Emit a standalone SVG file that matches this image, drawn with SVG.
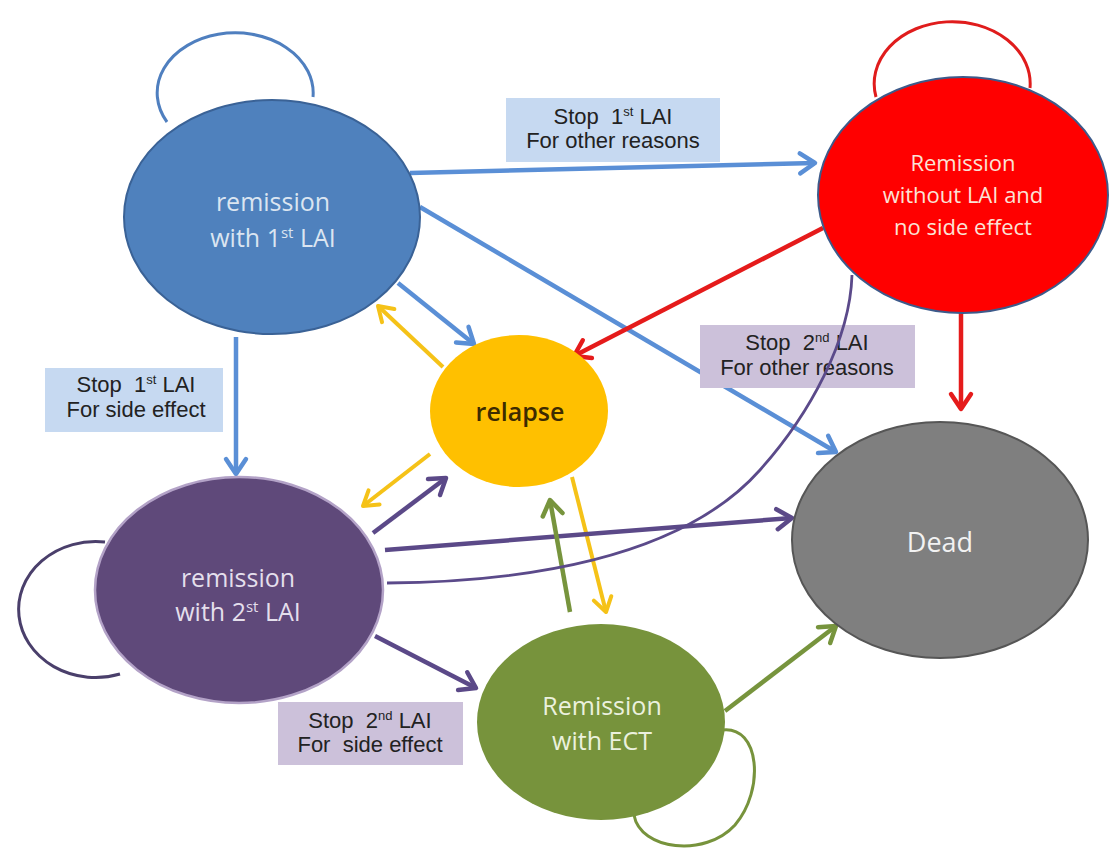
<svg xmlns="http://www.w3.org/2000/svg" width="1111" height="855" viewBox="0 0 1111 855">
  <style>
    .node-text { font-family: "Open Sans", "DejaVu Sans", sans-serif; text-anchor: middle; }
    .edge-label { font-family: "Liberation Sans", Arial, sans-serif; font-size: 22px; fill: #222; text-anchor: middle; }
    .box-blue { fill: #c6d9f1; }
    .box-lav { fill: #ccc1da; }
    .loop { fill: none; stroke-width: 3; }
    .edge { fill: none; stroke-width: 4.5; stroke-linecap: butt; }
    .blue { stroke: #5a8fd6; }
    .yellow { stroke: #f5c218; stroke-width: 4; }
    .purple { stroke: #5b4988; }
    .red { stroke: #e51b1b; }
    .green { stroke: #77943d; }
  </style>
  <defs>
    <marker id="arr-blue" markerUnits="userSpaceOnUse" viewBox="-22 -14 26 28" markerWidth="26" markerHeight="28" refX="0" refY="0" orient="auto">
      <path d="M-15,-10 L0,0 L-15,10" fill="none" stroke="#5a8fd6" stroke-width="4.5" stroke-linejoin="round" stroke-linecap="round"/>
    </marker>
    <marker id="arr-yellow" markerUnits="userSpaceOnUse" viewBox="-22 -14 26 28" markerWidth="26" markerHeight="28" refX="0" refY="0" orient="auto">
      <path d="M-14,-9 L0,0 L-14,9" fill="none" stroke="#f5c218" stroke-width="4" stroke-linejoin="round" stroke-linecap="round"/>
    </marker>
    <marker id="arr-purple" markerUnits="userSpaceOnUse" viewBox="-22 -14 26 28" markerWidth="26" markerHeight="28" refX="0" refY="0" orient="auto">
      <path d="M-15,-10 L0,0 L-15,10" fill="none" stroke="#5b4988" stroke-width="4.5" stroke-linejoin="round" stroke-linecap="round"/>
    </marker>
    <marker id="arr-red" markerUnits="userSpaceOnUse" viewBox="-22 -14 26 28" markerWidth="26" markerHeight="28" refX="0" refY="0" orient="auto">
      <path d="M-15,-10 L0,0 L-15,10" fill="none" stroke="#e51b1b" stroke-width="4.5" stroke-linejoin="round" stroke-linecap="round"/>
    </marker>
    <marker id="arr-green" markerUnits="userSpaceOnUse" viewBox="-22 -14 26 28" markerWidth="26" markerHeight="28" refX="0" refY="0" orient="auto">
      <path d="M-15,-10 L0,0 L-15,10" fill="none" stroke="#77943d" stroke-width="4.5" stroke-linejoin="round" stroke-linecap="round"/>
    </marker>
  </defs>

  <rect width="1111" height="855" fill="#ffffff"/>

  <!-- self loops (drawn behind their states) -->
  <g id="self-loops">
    <path class="loop" stroke="#4f7fbf" d="M167,122 A78,60 0 1 1 313,97"/>
    <path class="loop" stroke="#e01c1c" d="M876,97 A78,62 0 1 1 1030,88"/>
    <path class="loop" stroke="#4a3f6b" d="M105,542 A77,68 0 1 0 120,674"/>
    <path class="loop" stroke="#77933c" d="M722,730 C760,725 765,790 735,825 C705,858 640,850 634,815"/>
  </g>

  <!-- transitions between states -->
  <g id="connectors">
    <!-- from remission with 1st LAI -->
    <path class="edge blue" d="M410,173 L815,163" marker-end="url(#arr-blue)"/>
    <path class="edge blue" d="M420,207 L836,452" marker-end="url(#arr-blue)"/>
    <path class="edge blue" d="M398,283 L474,344" marker-end="url(#arr-blue)"/>
    <path class="edge blue" d="M236,337 L236,474" marker-end="url(#arr-blue)"/>
    <!-- from relapse -->
    <path class="edge yellow" d="M443,367 L378,306" marker-end="url(#arr-yellow)"/>
    <path class="edge yellow" d="M430,454 L363,506" marker-end="url(#arr-yellow)"/>
    <path class="edge yellow" d="M572,477 L606,612" marker-end="url(#arr-yellow)"/>
    <!-- from remission with 2nd LAI -->
    <path class="edge purple" d="M373,533 L446,478" marker-end="url(#arr-purple)"/>
    <path class="edge purple" d="M385,550 L792,518" marker-end="url(#arr-purple)" stroke-width="4"/>
    <path class="edge purple" d="M375,636 L476,688" marker-end="url(#arr-purple)"/>
    <!-- from remission without LAI -->
    <path class="edge red" d="M823,228 L574,356" marker-end="url(#arr-red)"/>
    <path class="edge red" d="M961,313 L961,409" marker-end="url(#arr-red)"/>
    <!-- from remission with ECT -->
    <path class="edge green" d="M570,612 L550,500" marker-end="url(#arr-green)"/>
    <path class="edge green" d="M725,711 L836,626" marker-end="url(#arr-green)"/>

    <!-- transition labels -->
    <g id="edge-labels">
      <g id="label-stop1-other">
        <rect class="box-blue" x="506" y="98" width="214" height="64"/>
        <text class="edge-label" xml:space="preserve" x="613" y="124">Stop  1<tspan font-size="13" dy="-8">st</tspan><tspan dy="8"> LAI</tspan></text>
        <text class="edge-label" x="613" y="148">For other reasons</text>
      </g>
      <g id="label-stop1-side">
        <rect class="box-blue" x="45" y="368" width="178" height="64"/>
        <text class="edge-label" xml:space="preserve" x="136" y="392">Stop  1<tspan font-size="13" dy="-8">st</tspan><tspan dy="8"> LAI</tspan></text>
        <text class="edge-label" x="136" y="417">For side effect</text>
      </g>
      <g id="label-stop2-other">
        <rect class="box-lav" x="700" y="325" width="215" height="63"/>
        <text class="edge-label" xml:space="preserve" x="807" y="350">Stop  2<tspan font-size="13" dy="-8">nd</tspan><tspan dy="8"> LAI</tspan></text>
        <text class="edge-label" x="807" y="375">For other reasons</text>
      </g>
      <g id="label-stop2-side">
        <rect class="box-lav" x="278" y="702" width="185" height="63"/>
        <text class="edge-label" xml:space="preserve" x="370" y="728">Stop  2<tspan font-size="13" dy="-8">nd</tspan><tspan dy="8"> LAI</tspan></text>
        <text class="edge-label" xml:space="preserve" x="370" y="752">For  side effect</text>
      </g>
    </g>

    <!-- 2nd LAI stopped for other reasons: long curve up to remission without LAI -->
    <path fill="none" stroke="#5b4a8a" stroke-width="2.8" d="M387,583 C520,582 680,560 760,470 C810,414 850,340 852,275"/>
  </g>

  <!-- states -->
  <g id="node-remission-1st">
    <ellipse cx="272" cy="217" rx="148" ry="117" fill="#4f81bd" stroke="#3a6296" stroke-width="2"/>
    <text class="node-text" x="273" y="211" font-size="25" fill="#dbe5f1">remission</text>
    <text class="node-text" x="273" y="247" font-size="25" fill="#dbe5f1">with 1<tspan font-size="15" dy="-9">st</tspan><tspan dy="9"> LAI</tspan></text>
  </g>

  <g id="node-remission-no-lai">
    <ellipse cx="963" cy="195" rx="145" ry="118" fill="#ff0000" stroke="#3d5a8a" stroke-width="2"/>
    <text class="node-text" x="963" y="171" font-size="22" fill="#fbe3d6">Remission</text>
    <text class="node-text" x="963" y="203" font-size="22" fill="#fbe3d6">without LAI and</text>
    <text class="node-text" x="963" y="235" font-size="22" fill="#fbe3d6">no side effect</text>
  </g>

  <g id="node-relapse">
    <ellipse cx="519" cy="411" rx="89" ry="76" fill="#ffc000"/>
    <text class="node-text" x="520" y="421" font-size="25" font-weight="600" fill="#3d2b00">relapse</text>
  </g>

  <g id="node-remission-2nd">
    <ellipse cx="239" cy="590" rx="144" ry="113" fill="#5f497a" stroke="#b3a2c7" stroke-width="2.5"/>
    <text class="node-text" x="238" y="587" font-size="25" fill="#e4dfec">remission</text>
    <text class="node-text" x="238" y="621" font-size="25" fill="#e4dfec">with 2<tspan font-size="15" dy="-9">st</tspan><tspan dy="9"> LAI</tspan></text>
  </g>

  <g id="node-remission-ect">
    <ellipse cx="601" cy="722" rx="124" ry="98" fill="#77933c"/>
    <text class="node-text" x="602" y="715" font-size="25" fill="#ebf1de">Remission</text>
    <text class="node-text" x="602" y="750" font-size="25" fill="#ebf1de">with ECT</text>
  </g>

  <g id="node-dead">
    <ellipse cx="940" cy="540" rx="148" ry="118" fill="#7f7f7f" stroke="#565656" stroke-width="2"/>
    <text class="node-text" x="940" y="552" font-size="27" fill="#f2f2f2">Dead</text>
  </g>
</svg>
